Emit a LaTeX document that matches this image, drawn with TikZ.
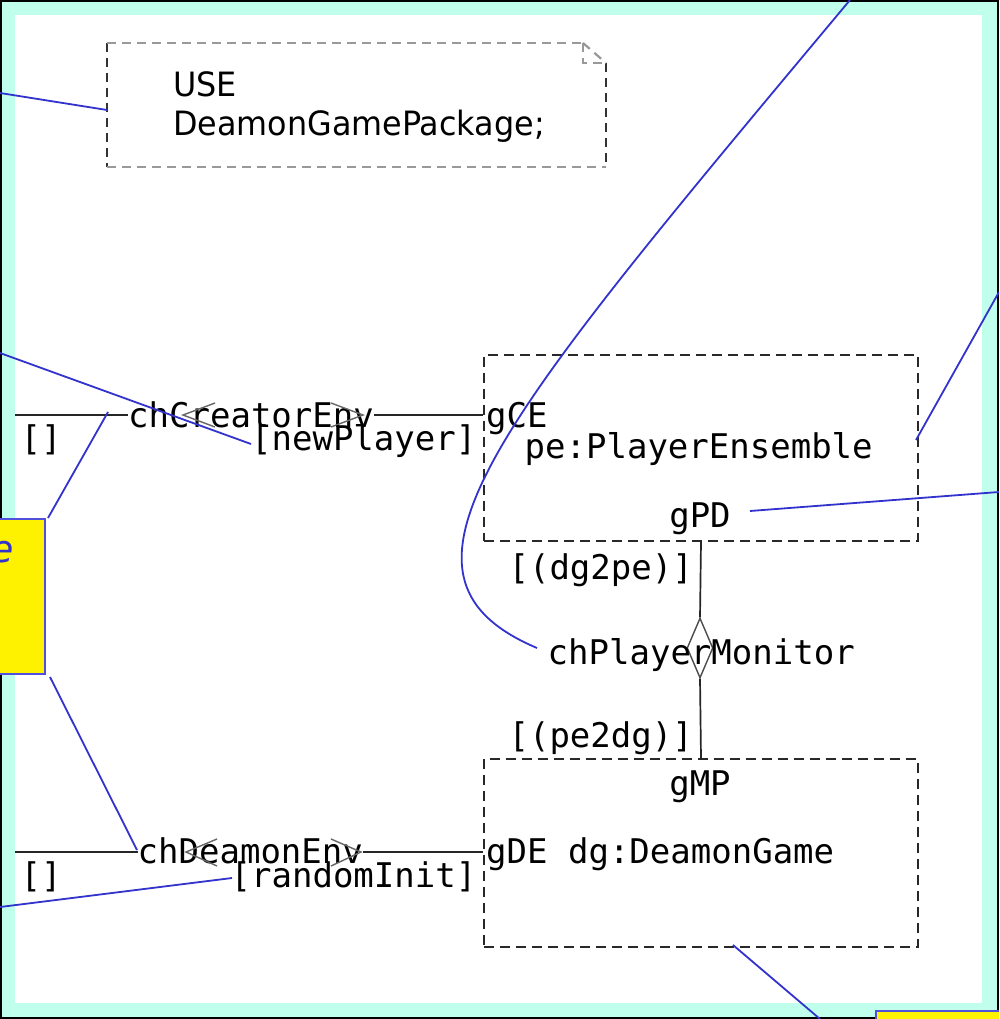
\documentclass[tikz,border=0pt]{standalone}
\usepackage{fontspec}
\setmonofont{DejaVu Sans Mono}
\newfontfamily\notefont[FakeStretch=0.95]{DejaVu Sans}
\newfontfamily\cmtfont{DejaVu Sans}
\usetikzlibrary{shapes.geometric}
\definecolor{framecyan}{RGB}{192,255,236}
\definecolor{cmtblue}{RGB}{50,50,205}
\definecolor{cmtedge}{RGB}{80,80,220}
\definecolor{agentline}{RGB}{40,40,40}
\tikzset{
  lbl/.style={font=\ttfamily\fontsize{34}{40}\selectfont, inner sep=0pt, text=black},
  notetext/.style={font=\notefont\fontsize{33.5}{40}\selectfont, inner sep=0pt, text=black},
  agentbox/.style={draw=agentline, line width=2pt, dash pattern=on 10pt off 6pt, inner sep=0pt},
  chanline/.style={draw=black!85, line width=1.7pt},
  chevron/.style={draw=black!60, line width=1.4pt},
  cmtline/.style={draw=cmtblue, line width=1.8pt},
  cmtbox/.style={fill=yellow, draw=cmtedge, line width=2pt, inner sep=0pt},
  noteh/.style={draw=black!40, line width=2.2pt, dash pattern=on 9pt off 6pt},
  notev/.style={draw=black!80, line width=2pt, dash pattern=on 9pt off 6pt},
}
\begin{document}
\begin{tikzpicture}[x=1pt,y=-1pt]
\useasboundingbox (0,0) rectangle (999,1019);
\clip (0,0) rectangle (999,1019);

% system frame
\fill[black] (0,0) rectangle (999,1019);
\fill[framecyan] (2,2) rectangle (997,1017);
\fill[white] (15,15) rectangle (982,1003);

% text symbol with the package clause
\coordinate (nTL) at (107,43);
\coordinate (nTR) at (583,43);
\coordinate (nFold) at (583,63);
\coordinate (nRT) at (606,63);
\coordinate (nBR) at (606,167);
\coordinate (nBL) at (107,167);
\draw[notev] (nTL) -- (nBL);
\draw[notev] (nRT) -- (nBR);
\draw[noteh] (nTL) -- (nTR);
\draw[noteh] (nBL) -- (nBR);
\draw[noteh] (nTR) -- (nRT);
\draw[noteh] (nTR) -- (nFold) -- (nRT);
\node[notetext, anchor=base west] (useKw) at (173,97) {USE};
\node[notetext, anchor=base west] (usePkg) at (173,136) {DeamonGamePackage;};

% agents
\node[agentbox, anchor=north west, minimum width=434pt, minimum height=186pt] (pe) at (483,354) {};
\node[agentbox, anchor=north west, minimum width=434pt, minimum height=188pt] (dg) at (483,758) {};

% channel chCreatorEnv
\coordinate (envCE) at (15,415);
\coordinate (gCEport) at (483,415);
\draw[chanline] (envCE) -- (gCEport);
\node[lbl, anchor=base west, fill=white] (chCE) at (128,427) {chCreatorEnv};
\draw[chevron] (215,403) -- (183,415) -- (215,427);
\draw[chevron] (331,403) -- (363,415) -- (331,427);
\node[lbl, anchor=base west] (sigEnvA) at (20.5,450) {[]};
\node[lbl, anchor=base east] (sigNew) at (476.5,450) {[newPlayer]};

% channel chDeamonEnv
\coordinate (envDE) at (15,852);
\coordinate (gDEport) at (483,852);
\draw[chanline] (envDE) -- (gDEport);
\node[lbl, anchor=base west, fill=white] (chDE) at (137.5,863) {chDeamonEnv};
\draw[chevron] (217,839) -- (186,852) -- (217,866);
\draw[chevron] (331,839) -- (361,852) -- (331,866);
\node[lbl, anchor=base west] (sigEnvB) at (20.5,887) {[]};
\node[lbl, anchor=base east] (sigRand) at (476.5,887) {[randomInit]};

% channel chPlayerMonitor
\node[diamond, draw=black!70, fill=white, line width=1.4pt, inner sep=0pt,
      minimum width=26pt, minimum height=60pt] (pmGate) at (700,648) {};
\draw[chanline] (pe.south) -- (pmGate.north);
\draw[chanline] (pmGate.south) -- (dg.north);
\node[lbl, anchor=base west] (chPM) at (547.5,664) {chPlayerMonitor};
\node[lbl, anchor=base east] (sigDg2pe) at (693,579) {[(dg2pe)]};
\node[lbl, anchor=base east] (sigPe2dg) at (693,747) {[(pe2dg)]};

% gate and instance labels
\node[lbl, anchor=base west] (gCE) at (486,427) {gCE};
\node[lbl, anchor=base west] (peName) at (524.5,458) {pe:PlayerEnsemble};
\node[lbl, anchor=base] (gPD) at (700,527) {gPD};
\node[lbl, anchor=base] (gMP) at (700,795) {gMP};
\node[lbl, anchor=base west] (dgName) at (486,863) {gDE dg:DeamonGame};

% comment symbols
\node[cmtbox, anchor=north east, minimum width=60pt, minimum height=155pt] (cmtL) at (46,518) {};
\node[text=cmtblue, font=\cmtfont\itshape\fontsize{38}{40}\selectfont, anchor=base east, inner sep=0pt] (cmtLtext) at (14,562) {e};
\node[cmtbox, anchor=north west, minimum width=150pt, minimum height=40pt] (cmtR) at (875,1010) {};

% comment connectors
\coordinate (k1a) at (0,93);     \coordinate (k1b) at (107,110);
\coordinate (k2a) at (850,0);    \coordinate (k2b) at (537,648);
\coordinate (k3a) at (999,292);  \coordinate (k3b) at (916,440);
\coordinate (k4a) at (750,511);  \coordinate (k4b) at (999,492);
\coordinate (k5a) at (0,353);    \coordinate (k5b) at (251,444);
\coordinate (k6a) at (48,518);   \coordinate (k6b) at (108,412);
\coordinate (k7a) at (50,677);   \coordinate (k7b) at (137,850);
\coordinate (k8a) at (0,907);    \coordinate (k8b) at (232,878);
\coordinate (k9a) at (733,945);  \coordinate (k9b) at (820,1019);
\draw[cmtline] (k1a) -- (k1b);
\draw[cmtline] (k2a) .. controls (495,425) and (365,575) .. (k2b);
\draw[cmtline] (k3a) -- (k3b);
\draw[cmtline] (k4a) -- (k4b);
\draw[cmtline] (k5a) -- (k5b);
\draw[cmtline] (k6a) -- (k6b);
\draw[cmtline] (k7a) -- (k7b);
\draw[cmtline] (k8a) -- (k8b);
\draw[cmtline] (k9a) -- (k9b);
\end{tikzpicture}
\end{document}
